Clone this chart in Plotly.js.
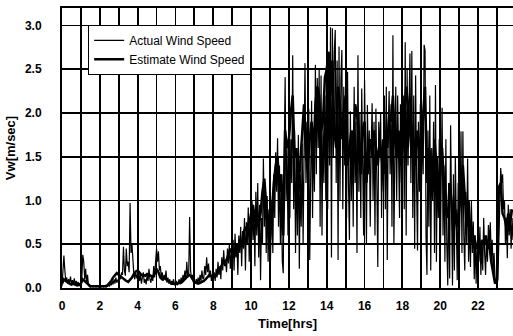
<!DOCTYPE html>
<html>
<head>
<meta charset="utf-8">
<script src="https://cdn.plot.ly/plotly-3.0.1.min.js"></script>
<style>html,body{margin:0;padding:0;background:#fff;}#chart{width:513px;height:336px;}</style>
</head>
<body>
<div id="chart"></div>
<script>
// Actual wind speed, sampled every 0.05 h starting at 0 h
const actualStep = 0.05;
const actualSpeed = [
  // 0 h
  0.02,0.15,0.37,0.20,0.08,0.12,0.05,0.10,0.06,0.13,0.04,0.09,0.05,0.11,0.03,0.08,0.04,0.07,0.02,0.05,
  // 1 h
  0.03,0.12,0.38,0.30,0.10,0.22,0.05,0.15,0.03,0.02,0.01,0.02,0.01,0.01,0.02,0.01,0.01,0.02,0.01,0.01,
  // 2 h
  0.01,0.01,0.02,0.01,0.01,0.02,0.01,0.01,0.02,0.03,0.02,0.05,0.03,0.08,0.04,0.10,0.05,0.12,0.06,0.09,
  // 3 h
  0.08,0.12,0.10,0.18,0.15,0.47,0.20,0.14,0.45,0.25,0.30,0.18,0.97,0.40,0.50,0.22,0.15,0.10,0.18,0.12,
  // 4 h
  0.10,0.20,0.08,0.15,0.05,0.12,0.18,0.06,0.10,0.04,0.15,0.08,0.22,0.10,0.06,0.14,0.08,0.25,0.12,0.30,
  // 5 h
  0.45,0.30,0.42,0.20,0.25,0.12,0.18,0.08,0.15,0.10,0.20,0.06,0.12,0.05,0.10,0.04,0.08,0.05,0.10,0.03,
  // 6 h
  0.05,0.08,0.03,0.06,0.10,0.04,0.12,0.06,0.15,0.08,0.20,0.10,0.30,0.12,0.15,0.81,0.20,0.10,0.15,0.06,
  // 7 h
  0.08,0.05,0.10,0.06,0.12,0.05,0.15,0.08,0.20,0.10,0.12,0.25,0.15,0.35,0.18,0.28,0.12,0.20,0.08,0.15,
  // 8 h
  0.10,0.18,0.08,0.22,0.12,0.30,0.15,0.25,0.10,0.35,0.20,0.43,0.25,0.30,0.18,0.45,0.28,0.50,0.22,0.40,
  // 9 h
  0.30,0.55,0.20,0.62,0.35,0.50,0.15,0.60,0.40,0.70,0.25,0.65,0.45,0.80,0.20,0.75,0.50,0.92,0.30,0.85,
  // 10 h
  0.40,1.00,0.55,0.90,0.25,1.10,0.60,1.20,0.35,0.95,0.09,0.80,0.50,1.48,0.70,1.20,0.40,1.05,0.30,0.90,
  // 11 h
  0.07,0.60,1.00,0.40,1.30,0.80,1.55,1.10,1.71,0.70,1.40,0.50,1.20,0.30,0.17,1.50,2.41,1.00,1.60,0.60,
  // 12 h
  1.94,0.80,1.70,1.20,2.66,0.90,1.80,0.40,1.50,0.60,1.75,0.22,1.30,0.70,1.65,0.50,2.20,2.57,1.20,1.90,
  // 13 h
  0.90,2.05,0.32,1.50,2.14,0.80,1.80,1.10,2.55,1.30,2.40,1.60,2.50,0.70,2.43,0.60,1.90,1.20,2.20,1.00,
  // 14 h
  2.89,0.90,2.60,1.40,2.98,0.35,2.97,1.50,2.70,2.95,1.20,2.60,0.32,2.76,1.00,2.40,2.72,0.90,2.30,1.40,
  // 15 h
  2.10,0.80,2.47,1.20,0.55,2.02,1.00,1.80,0.70,2.30,1.20,1.90,0.40,2.66,1.10,2.00,0.80,2.28,1.30,0.60,
  // 16 h
  2.38,0.90,0.50,2.09,1.30,1.80,0.70,1.60,2.11,1.00,1.90,0.60,2.05,1.20,0.24,1.90,1.50,2.00,0.80,1.70,
  // 17 h
  1.10,2.20,0.90,2.30,0.32,1.80,2.25,1.30,2.10,0.70,2.89,0.50,1.90,2.30,1.00,2.20,1.50,0.80,2.10,1.20,
  // 18 h
  1.50,2.20,0.90,2.81,0.60,2.50,1.40,2.00,2.68,1.20,2.71,0.80,2.20,0.45,2.43,1.20,0.43,1.90,1.10,2.10,
  // 19 h
  0.90,2.00,1.30,2.78,2.71,0.60,0.15,1.80,0.70,2.20,0.20,1.60,1.00,1.90,0.40,2.32,0.30,1.50,0.80,1.70,
  // 20 h
  0.20,1.20,2.06,0.60,1.40,0.30,1.70,0.50,0.03,1.20,0.11,1.86,0.40,0.03,1.30,0.20,1.50,0.50,0.09,1.20,
  // 21 h
  0.30,0.90,1.79,0.40,1.79,0.60,0.20,1.10,0.50,1.48,0.30,0.80,0.24,1.00,0.40,0.76,0.10,0.60,0.05,0.50,
  // 22 h
  0.60,0.30,0.70,0.15,0.50,0.20,0.80,0.40,0.15,0.60,0.30,0.72,0.50,0.75,0.35,0.55,0.20,0.40,0.05,0.10,
  // 23 h
  0.03,0.10,0.50,0.90,1.37,1.20,1.30,0.90,1.00,0.50,0.80,0.34,0.95,0.60,0.90,0.45,0.80,0.55
];

// Estimated wind speed, sampled every 0.1 h starting at 0 h
const estimateStep = 0.1;
const estimateSpeed = [
  0.05,0.10,0.08,0.06,0.05,0.04,0.05,0.04,0.03,0.04,
  0.05,0.10,0.08,0.05,0.03,0.02,0.02,0.02,0.02,0.02,
  0.02,0.02,0.02,0.02,0.03,0.05,0.08,0.12,0.15,0.17,
  0.15,0.13,0.12,0.10,0.08,0.07,0.09,0.12,0.16,0.19,
  0.20,0.18,0.15,0.15,0.14,0.16,0.15,0.14,0.13,0.16,
  0.22,0.18,0.12,0.10,0.12,0.10,0.08,0.06,0.05,0.05,
  0.05,0.05,0.06,0.06,0.08,0.10,0.13,0.15,0.14,0.10,
  0.07,0.06,0.05,0.06,0.07,0.08,0.10,0.13,0.15,0.14,
  0.12,0.13,0.16,0.20,0.24,0.28,0.30,0.32,0.38,0.45,
  0.40,0.35,0.50,0.42,0.55,0.48,0.62,0.70,0.65,0.78,
  0.82,0.95,0.75,0.90,0.70,0.85,1.10,1.25,0.95,0.80,
  0.55,0.90,1.20,1.40,1.50,1.10,1.30,0.60,1.80,1.60,
  1.70,2.00,2.20,1.50,1.60,1.10,1.40,1.80,2.10,1.50,
  1.40,1.70,1.90,1.50,2.10,2.30,2.20,1.80,1.90,2.40,
  2.50,2.70,2.20,2.60,1.80,1.60,2.30,2.10,1.70,2.00,
  2.20,1.40,1.60,1.80,1.50,2.10,2.00,1.60,1.30,1.80,
  1.90,1.20,1.60,1.70,1.50,1.80,1.60,1.40,1.70,1.50,
  1.30,1.80,1.60,2.00,1.90,2.20,1.70,1.50,1.80,1.40,
  1.60,2.00,2.30,2.10,1.80,1.50,1.70,1.40,1.80,1.60,
  1.50,2.00,2.30,1.20,1.60,1.50,1.10,1.70,1.40,1.20,
  1.30,1.60,1.20,0.90,0.80,1.20,1.00,0.60,0.90,0.70,
  0.90,1.10,1.40,1.00,0.70,1.00,0.60,0.50,0.60,0.45,
  0.50,0.40,0.55,0.50,0.60,0.45,0.50,0.30,0.15,0.05,
  0.10,1.15,1.20,0.85,0.80,0.70,0.85,0.75,0.90
];

const seriesNames = ["Actual Wind Speed", "Estimate Wind Speed"];
const xTickValues = [0,2,4,6,8,10,12,14,16,18,20,22];
const yTickValues = [0.0,0.5,1.0,1.5,2.0,2.5,3.0];
const yTickLabels = ["0.0","0.5","1.0","1.5","2.0","2.5","3.0"];

const tickFont = {family: "Liberation Sans Narrow, Liberation Sans, Arial, sans-serif", size: 12, color: "#000", weight: "bold"};

const traces = [
  {
    type: "scatter", mode: "lines", name: seriesNames[0],
    x0: 0, dx: actualStep, y: actualSpeed,
    line: {color: "#000", width: 1.2}
  },
  {
    type: "scatter", mode: "lines", name: seriesNames[1],
    x0: 0, dx: estimateStep, y: estimateSpeed,
    line: {color: "#000", width: 2.5}
  }
];

const layout = {
  width: 513, height: 336,
  margin: {l: 62, r: 0, t: 8, b: 48},
  paper_bgcolor: "#fff", plot_bgcolor: "#fff",
  showlegend: true,
  legend: {
    x: 0.058, y: 0.94, xanchor: "left", yanchor: "top",
    bgcolor: "#fff", bordercolor: "#000", borderwidth: 1,
    font: {family: "Liberation Sans, Arial, sans-serif", size: 12, color: "#000"},
    tracegroupgap: 0, itemwidth: 30
  },
  xaxis: {
    range: [0, 23.85],
    tickmode: "array", tickvals: xTickValues,
    ticks: "", ticklabelstandoff: 6,
    showgrid: true, gridcolor: "#000", gridwidth: 1.8,
    minor: {dtick: 1, tick0: 0, showgrid: true, gridcolor: "#000", gridwidth: 1.8},
    showline: true, linecolor: "#000", linewidth: 2, mirror: true,
    zeroline: false,
    tickfont: tickFont,
    title: {text: "Time[hrs]", font: {family: "Liberation Sans Narrow, Liberation Sans, Arial, sans-serif", size: 13, color: "#000", weight: "bold"}, standoff: 6}
  },
  yaxis: {
    range: [0, 3.2],
    tickmode: "array", tickvals: yTickValues, ticktext: yTickLabels,
    ticks: "", ticklabelstandoff: 16,
    showgrid: true, gridcolor: "#000", gridwidth: 1.8,
    showline: true, linecolor: "#000", linewidth: 2,
    zeroline: false,
    tickfont: tickFont,
    title: {text: "Vw[m/sec]", font: {family: "Liberation Sans Narrow, Liberation Sans, Arial, sans-serif", size: 13, color: "#000", weight: "bold"}, standoff: 6}
  }
};

Plotly.newPlot("chart", traces, layout, {displayModeBar: false, staticPlot: true});
</script>
</body>
</html>
